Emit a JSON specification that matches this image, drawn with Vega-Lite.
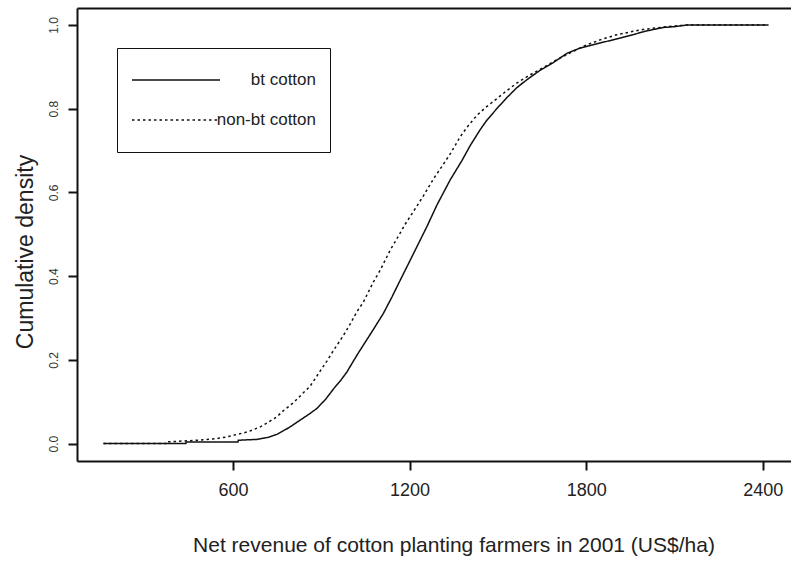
{
  "$schema": "https://vega.github.io/schema/vega-lite/v6.json",
  "width": 714,
  "height": 453,
  "autosize": {"type": "none"},
  "padding": {"left": 77, "top": 8, "right": 0, "bottom": 106},
  "background": "white",
  "config": {
    "view": {"stroke": null},
    "font": "Liberation Sans",
    "axis": {"grid": false}
  },
  "datasets": {
    "ecdf": [
      {"revenue": 160, "cdf": 0, "group": "bt cotton"},
      {"revenue": 440, "cdf": 0, "group": "bt cotton"},
      {"revenue": 441, "cdf": 0.004, "group": "bt cotton"},
      {"revenue": 617, "cdf": 0.004, "group": "bt cotton"},
      {"revenue": 618, "cdf": 0.008, "group": "bt cotton"},
      {"revenue": 681, "cdf": 0.010, "group": "bt cotton"},
      {"revenue": 720, "cdf": 0.015, "group": "bt cotton"},
      {"revenue": 749, "cdf": 0.022, "group": "bt cotton"},
      {"revenue": 790, "cdf": 0.038, "group": "bt cotton"},
      {"revenue": 828, "cdf": 0.056, "group": "bt cotton"},
      {"revenue": 860, "cdf": 0.071, "group": "bt cotton"},
      {"revenue": 885, "cdf": 0.084, "group": "bt cotton"},
      {"revenue": 915, "cdf": 0.106, "group": "bt cotton"},
      {"revenue": 942, "cdf": 0.131, "group": "bt cotton"},
      {"revenue": 965, "cdf": 0.150, "group": "bt cotton"},
      {"revenue": 987, "cdf": 0.171, "group": "bt cotton"},
      {"revenue": 1021, "cdf": 0.211, "group": "bt cotton"},
      {"revenue": 1050, "cdf": 0.243, "group": "bt cotton"},
      {"revenue": 1080, "cdf": 0.276, "group": "bt cotton"},
      {"revenue": 1111, "cdf": 0.311, "group": "bt cotton"},
      {"revenue": 1140, "cdf": 0.350, "group": "bt cotton"},
      {"revenue": 1168, "cdf": 0.390, "group": "bt cotton"},
      {"revenue": 1200, "cdf": 0.435, "group": "bt cotton"},
      {"revenue": 1236, "cdf": 0.486, "group": "bt cotton"},
      {"revenue": 1260, "cdf": 0.520, "group": "bt cotton"},
      {"revenue": 1293, "cdf": 0.570, "group": "bt cotton"},
      {"revenue": 1338, "cdf": 0.630, "group": "bt cotton"},
      {"revenue": 1377, "cdf": 0.675, "group": "bt cotton"},
      {"revenue": 1406, "cdf": 0.712, "group": "bt cotton"},
      {"revenue": 1440, "cdf": 0.750, "group": "bt cotton"},
      {"revenue": 1462, "cdf": 0.772, "group": "bt cotton"},
      {"revenue": 1500, "cdf": 0.803, "group": "bt cotton"},
      {"revenue": 1530, "cdf": 0.826, "group": "bt cotton"},
      {"revenue": 1564, "cdf": 0.850, "group": "bt cotton"},
      {"revenue": 1600, "cdf": 0.870, "group": "bt cotton"},
      {"revenue": 1640, "cdf": 0.890, "group": "bt cotton"},
      {"revenue": 1688, "cdf": 0.910, "group": "bt cotton"},
      {"revenue": 1734, "cdf": 0.932, "group": "bt cotton"},
      {"revenue": 1780, "cdf": 0.945, "group": "bt cotton"},
      {"revenue": 1847, "cdf": 0.957, "group": "bt cotton"},
      {"revenue": 1900, "cdf": 0.966, "group": "bt cotton"},
      {"revenue": 1960, "cdf": 0.977, "group": "bt cotton"},
      {"revenue": 2000, "cdf": 0.985, "group": "bt cotton"},
      {"revenue": 2062, "cdf": 0.994, "group": "bt cotton"},
      {"revenue": 2100, "cdf": 0.996, "group": "bt cotton"},
      {"revenue": 2142, "cdf": 1.0, "group": "bt cotton"},
      {"revenue": 2419, "cdf": 1.0, "group": "bt cotton"},
      {"revenue": 160, "cdf": 0, "group": "non-bt cotton"},
      {"revenue": 375, "cdf": 0, "group": "non-bt cotton"},
      {"revenue": 376, "cdf": 0.004, "group": "non-bt cotton"},
      {"revenue": 478, "cdf": 0.008, "group": "non-bt cotton"},
      {"revenue": 546, "cdf": 0.012, "group": "non-bt cotton"},
      {"revenue": 580, "cdf": 0.016, "group": "non-bt cotton"},
      {"revenue": 602, "cdf": 0.020, "group": "non-bt cotton"},
      {"revenue": 650, "cdf": 0.028, "group": "non-bt cotton"},
      {"revenue": 693, "cdf": 0.040, "group": "non-bt cotton"},
      {"revenue": 720, "cdf": 0.051, "group": "non-bt cotton"},
      {"revenue": 749, "cdf": 0.064, "group": "non-bt cotton"},
      {"revenue": 772, "cdf": 0.079, "group": "non-bt cotton"},
      {"revenue": 806, "cdf": 0.098, "group": "non-bt cotton"},
      {"revenue": 840, "cdf": 0.122, "group": "non-bt cotton"},
      {"revenue": 862, "cdf": 0.137, "group": "non-bt cotton"},
      {"revenue": 896, "cdf": 0.173, "group": "non-bt cotton"},
      {"revenue": 919, "cdf": 0.197, "group": "non-bt cotton"},
      {"revenue": 942, "cdf": 0.223, "group": "non-bt cotton"},
      {"revenue": 975, "cdf": 0.258, "group": "non-bt cotton"},
      {"revenue": 1000, "cdf": 0.288, "group": "non-bt cotton"},
      {"revenue": 1021, "cdf": 0.315, "group": "non-bt cotton"},
      {"revenue": 1043, "cdf": 0.338, "group": "non-bt cotton"},
      {"revenue": 1077, "cdf": 0.386, "group": "non-bt cotton"},
      {"revenue": 1100, "cdf": 0.414, "group": "non-bt cotton"},
      {"revenue": 1134, "cdf": 0.462, "group": "non-bt cotton"},
      {"revenue": 1160, "cdf": 0.493, "group": "non-bt cotton"},
      {"revenue": 1185, "cdf": 0.524, "group": "non-bt cotton"},
      {"revenue": 1220, "cdf": 0.562, "group": "non-bt cotton"},
      {"revenue": 1247, "cdf": 0.592, "group": "non-bt cotton"},
      {"revenue": 1281, "cdf": 0.632, "group": "non-bt cotton"},
      {"revenue": 1304, "cdf": 0.656, "group": "non-bt cotton"},
      {"revenue": 1338, "cdf": 0.692, "group": "non-bt cotton"},
      {"revenue": 1372, "cdf": 0.733, "group": "non-bt cotton"},
      {"revenue": 1400, "cdf": 0.760, "group": "non-bt cotton"},
      {"revenue": 1430, "cdf": 0.785, "group": "non-bt cotton"},
      {"revenue": 1462, "cdf": 0.805, "group": "non-bt cotton"},
      {"revenue": 1500, "cdf": 0.826, "group": "non-bt cotton"},
      {"revenue": 1530, "cdf": 0.843, "group": "non-bt cotton"},
      {"revenue": 1564, "cdf": 0.861, "group": "non-bt cotton"},
      {"revenue": 1598, "cdf": 0.876, "group": "non-bt cotton"},
      {"revenue": 1640, "cdf": 0.893, "group": "non-bt cotton"},
      {"revenue": 1666, "cdf": 0.903, "group": "non-bt cotton"},
      {"revenue": 1700, "cdf": 0.917, "group": "non-bt cotton"},
      {"revenue": 1750, "cdf": 0.935, "group": "non-bt cotton"},
      {"revenue": 1800, "cdf": 0.952, "group": "non-bt cotton"},
      {"revenue": 1850, "cdf": 0.965, "group": "non-bt cotton"},
      {"revenue": 1900, "cdf": 0.976, "group": "non-bt cotton"},
      {"revenue": 1960, "cdf": 0.985, "group": "non-bt cotton"},
      {"revenue": 2000, "cdf": 0.990, "group": "non-bt cotton"},
      {"revenue": 2062, "cdf": 0.995, "group": "non-bt cotton"},
      {"revenue": 2142, "cdf": 1.0, "group": "non-bt cotton"},
      {"revenue": 2419, "cdf": 1.0, "group": "non-bt cotton"}
    ]
  },
  "data": {"name": "ecdf"},
  "layer": [
    {
      "mark": {"type": "line", "color": "#111111", "strokeWidth": 1.5},
      "encoding": {
        "x": {
          "field": "revenue", "type": "quantitative",
          "scale": {"domain": [70, 2496], "nice": false, "zero": false},
          "axis": {
            "orient": "bottom",
            "values": [600, 1200, 1800, 2400],
            "format": "d",
            "domainColor": "#111111", "domainWidth": 2,
            "tickColor": "#111111", "tickWidth": 2, "tickSize": 9,
            "labelFontSize": 18, "labelColor": "#222222", "labelPadding": 11,
            "labelFont": "Liberation Sans",
            "title": "Net revenue of cotton planting farmers in 2001 (US$/ha)",
            "titleFont": "Liberation Sans", "titleFontSize": 21, "titleFontWeight": "normal",
            "titleColor": "#222222", "titleX": 376.5, "titleY": 90,
            "titleBaseline": "alphabetic", "titleAlign": "center"
          }
        },
        "y": {
          "field": "cdf", "type": "quantitative",
          "scale": {"domain": [-0.0416, 1.0406], "nice": false, "zero": false},
          "axis": {
            "values": [0, 0.2, 0.4, 0.6, 0.8, 1.0],
            "format": ".1f",
            "domainColor": "#111111", "domainWidth": 2,
            "tickColor": "#111111", "tickWidth": 2, "tickSize": 9,
            "labelFontSize": 12, "labelColor": "#333333", "labelPadding": 8,
            "labelAngle": 270, "labelAlign": "center", "labelBaseline": "bottom",
            "labelFont": "Liberation Sans",
            "title": "Cumulative density",
            "titleFont": "Liberation Sans", "titleFontSize": 23, "titleFontWeight": "normal",
            "titleColor": "#222222", "titleAngle": 270, "titleX": -45, "titleY": 243.5,
            "titleBaseline": "alphabetic", "titleAlign": "center"
          }
        },
        "strokeDash": {
          "field": "group", "type": "nominal",
          "scale": {"domain": ["bt cotton", "non-bt cotton"], "range": [[1, 0], [2.5, 3]]},
          "legend": {
            "orient": "none", "legendX": 40, "legendY": 40,
            "title": null,
            "strokeColor": "#111111", "fillColor": "white", "padding": 14,
            "symbolType": "stroke", "symbolSize": 7744, "symbolStrokeWidth": 1.3,
            "symbolStrokeColor": "#111111",
            "clipHeight": 36,
            "labelFontSize": 17, "labelFont": "Liberation Sans", "labelColor": "#222222",
            "labelAlign": "right", "labelOffset": 95, "labelLimit": 300,
            "rowPadding": 4
          }
        }
      }
    },
    {
      "mark": {"type": "line", "opacity": 0},
      "encoding": {
        "x": {
          "field": "revenue", "type": "quantitative",
          "axis": {"orient": "top", "labels": false, "ticks": false, "title": null,
                   "domainColor": "#111111", "domainWidth": 2}
        },
        "y": {"field": "cdf", "type": "quantitative"},
        "detail": {"field": "group"}
      }
    }
  ],
  "resolve": {"axis": {"x": "independent"}}
}
